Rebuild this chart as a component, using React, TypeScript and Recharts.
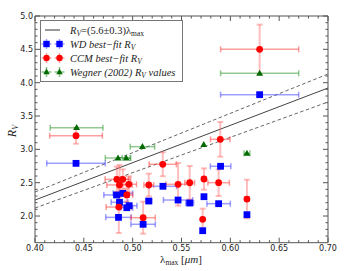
import React from 'react';
import { ScatterChart, Scatter, XAxis, YAxis, ErrorBar, ReferenceLine, ReferenceArea } from 'recharts';

// ---------- data ----------
const xMajorTicks = [0.4, 0.45, 0.5, 0.55, 0.6, 0.65, 0.7];
const xMinorTicks = [0.41, 0.42, 0.43, 0.44, 0.46, 0.47, 0.48, 0.49, 0.51, 0.52, 0.53, 0.54, 0.56, 0.57, 0.58, 0.59, 0.61, 0.62, 0.63, 0.64, 0.66, 0.67, 0.68, 0.69];
const yMajorTicks = [2.0, 2.5, 3.0, 3.5, 4.0, 4.5, 5.0];
const yMinorTicks = [1.7, 1.8, 1.9, 2.1, 2.2, 2.3, 2.4, 2.6, 2.7, 2.8, 2.9, 3.1, 3.2, 3.3, 3.4, 3.6, 3.7, 3.8, 3.9, 4.1, 4.2, 4.3, 4.4, 4.6, 4.7, 4.8, 4.9];

// fit line R_V = (5.6 +/- 0.3) lambda_max, endpoints at x-domain edges
const lineX = [0.4, 0.7];
const fitY = [2.24, 3.92];
const upperY = [2.36, 4.13];
const lowerY = [2.12, 3.71];

// WD best-fit R_V (blue squares)
const wdX = [0.442, 0.4835, 0.49, 0.4865, 0.4964, 0.494, 0.4855, 0.5107, 0.5165, 0.531, 0.5465, 0.5584, 0.573, 0.588, 0.5717, 0.59, 0.617, 0.63];
const wdY = [2.79, 2.316, 2.34, 2.206, 2.155, 2.125, 1.98, 1.876, 2.225, 2.446, 2.24, 2.195, 2.29, 2.185, 1.78, 2.746, 2.02, 3.82];
const wdXErr = [0.03, 0.013, 0.01, 0.0085, 0.008, 0.006, 0.013, 0.0125, 0.003, 0.014, 0.015, 0.004, 0, 0.012, 0, 0.0105, 0.002, 0.04];

// CCM best-fit R_V (red circles)
const ccmX = [0.442, 0.4838, 0.4899, 0.4865, 0.496, 0.494, 0.4858, 0.5107, 0.5165, 0.5308, 0.5465, 0.5584, 0.573, 0.588, 0.5717, 0.5897, 0.617, 0.63];
const ccmY = [3.205, 2.55, 2.55, 2.466, 2.476, 2.316, 2.135, 1.975, 2.466, 2.776, 2.476, 2.5, 2.555, 2.5, 1.95, 3.15, 2.255, 4.5];
const ccmXErr = [0.027, 0.012, 0.008, 0.013, 0.008, 0.006, 0.013, 0.0125, 0.005, 0.014, 0.0125, 0.005, 0.002, 0.011, 0, 0.01, 0.002, 0.04];
const ccmYErr = [0.12, 0.19, 0.15, 0.3, 0.12, 0.1, 0.39, 0.24, 0.17, 0.18, 0.32, 0.25, 0.16, 0.2, 0.16, 0.26, 0.29, 0.37];

// Wegner (2002) R_V values (green triangles)
const wegX = [0.4426, 0.485, 0.4934, 0.51, 0.5728, 0.617, 0.63];
const wegY = [3.325, 2.87, 2.87, 3.04, 3.07, 2.94, 4.14];
const wegXErr = [0.027, 0.013, 0.004, 0.0125, 0, 0.003, 0.04];

const wdData = wdX.map((x, i) => ({ x, y: wdY[i], ex: wdXErr[i] }));
const ccmData = ccmX.map((x, i) => ({ x, y: ccmY[i], ex: ccmXErr[i], ey: ccmYErr[i] }));
const wegData = wegX.map((x, i) => ({ x, y: wegY[i], ex: wegXErr[i] }));

// ---------- layout / style ----------
const W = 354;
const H = 271;
const PL = 35;
const PT = 16;
const PR = 328;
const PB = 242.7;
const AX = '#555';
const TICKFONT = 'DejaVu Sans';
const SERIF = 'Liberation Serif';

const BLUE = '#0000ff';
const RED = '#ff0000';
const GREEN = '#006a00';

const XMajor = (p: any) => (
  <g>
    <line x1={p.x} x2={p.x} y1={PB} y2={PB - 5} stroke={AX} strokeWidth={1} />
    <line x1={p.x} x2={p.x} y1={PT} y2={PT + 5} stroke={AX} strokeWidth={1} />
    <text x={p.x} y={250.6} textAnchor="middle" fontFamily={TICKFONT} fontSize={8} fill="#222">
      {Number(p.payload.value).toFixed(2)}
    </text>
  </g>
);
const XMinor = (p: any) => (
  <g>
    <line x1={p.x} x2={p.x} y1={PB} y2={PB - 2.5} stroke={AX} strokeWidth={1} />
    <line x1={p.x} x2={p.x} y1={PT} y2={PT + 2.5} stroke={AX} strokeWidth={1} />
  </g>
);
const YMajor = (p: any) => (
  <g>
    <line x1={PL} x2={PL + 5} y1={p.y} y2={p.y} stroke={AX} strokeWidth={1} />
    <line x1={PR} x2={PR - 5} y1={p.y} y2={p.y} stroke={AX} strokeWidth={1} />
    <text x={33} y={p.y + 2.9} textAnchor="end" fontFamily={TICKFONT} fontSize={8} fill="#222">
      {Number(p.payload.value).toFixed(1)}
    </text>
  </g>
);
const YMinor = (p: any) => (
  <g>
    <line x1={PL} x2={PL + 2.5} y1={p.y} y2={p.y} stroke={AX} strokeWidth={1} />
    <line x1={PR} x2={PR - 2.5} y1={p.y} y2={p.y} stroke={AX} strokeWidth={1} />
  </g>
);

const Square = (p: any) => <rect x={p.cx - 3.4} y={p.cy - 3.4} width={6.8} height={6.8} fill={BLUE} />;
const Dot = (p: any) => <circle cx={p.cx} cy={p.cy} r={3.4} fill={RED} />;
const Tri = (p: any) => (
  <polygon points={`${p.cx},${p.cy - 3.6} ${p.cx - 3.4},${p.cy + 2.4} ${p.cx + 3.4},${p.cy + 2.4}`} fill={GREEN} />
);

const rows = [30, 44, 58, 72];
const LegendMarkers = ({ y, color, err, shape }: any) => (
  <g>
    {[46.5, 59.5].map((mx) => (
      <g key={mx}>
        <line x1={mx - 5} x2={mx + 5} y1={y} y2={y} stroke={err} strokeWidth={1.5} />
        <line x1={mx} x2={mx} y1={y - 5} y2={y + 5} stroke={err} strokeWidth={1.5} />
        {shape === 's' && <rect x={mx - 3.2} y={y - 3.2} width={6.4} height={6.4} fill={color} />}
        {shape === 'c' && <circle cx={mx} cy={y} r={3.2} fill={color} />}
        {shape === 't' && <polygon points={`${mx},${y - 3.4} ${mx - 3.2},${y + 2.3} ${mx + 3.2},${y + 2.3}`} fill={color} />}
      </g>
    ))}
  </g>
);

const Overlay = () => (
  <svg width={W} height={H} style={{ position: 'absolute', left: 0, top: 0, pointerEvents: 'none' }}>
    {/* axis labels */}
    <text x={181} y={263} textAnchor="middle" fontFamily={SERIF} fontSize={11} fill="#222">
      λ<tspan fontSize={7.5} dy={2}>max</tspan>
      <tspan dy={-2}> [</tspan>
      <tspan fontStyle="italic">μm</tspan>]
    </text>
    <text x={15.5} y={131} transform="rotate(-90 15.5 131)" textAnchor="middle" fontFamily={SERIF} fontSize={12} fontStyle="italic" fill="#222">
      R<tspan fontSize={8} dy={2}>V</tspan>
    </text>
    {/* legend */}
    <rect x={40.5} y={20.5} width={142} height={61} fill="#fff" stroke="#777" strokeWidth={1} />
    <line x1={45} x2={60} y1={rows[0]} y2={rows[0]} stroke="#333" strokeWidth={1} />
    <LegendMarkers y={rows[1]} color={BLUE} err="rgba(80,80,255,0.55)" shape="s" />
    <LegendMarkers y={rows[2]} color={RED} err="rgba(255,80,80,0.55)" shape="c" />
    <LegendMarkers y={rows[3]} color={GREEN} err="rgba(40,150,40,0.55)" shape="t" />
    <g fontFamily={SERIF} fontSize={10.5} fill="#222">
      <text x={70} y={rows[0] + 3.5}>
        <tspan fontStyle="italic">R</tspan>
        <tspan fontStyle="italic" fontSize={7.5} dy={2}>V</tspan>
        <tspan dy={-2}>=(5.6±0.3)λ</tspan>
        <tspan fontSize={7.5} dy={2}>max</tspan>
      </text>
      <text x={70} y={rows[1] + 3.5} fontStyle="italic">
        WD best−fit R<tspan fontSize={7.5} dy={2}>V</tspan>
      </text>
      <text x={70} y={rows[2] + 3.5} fontStyle="italic">
        CCM best−fit R<tspan fontSize={7.5} dy={2}>V</tspan>
      </text>
      <text x={70} y={rows[3] + 3.5} fontStyle="italic">
        Wegner (2002) R<tspan fontSize={7.5} dy={2}>V</tspan>
        <tspan dy={-2}> values</tspan>
      </text>
    </g>
  </svg>
);

export default function App() {
  return (
    <div style={{ position: 'absolute', left: 0, top: 0, width: W, height: H, background: '#fff' }}>
      <ScatterChart width={W} height={H} margin={{ top: 0, right: 0, bottom: 0, left: 0 }}>
        <XAxis
          xAxisId={0}
          orientation="bottom"
          type="number"
          dataKey="x"
          domain={[0.4, 0.7]}
          ticks={xMajorTicks}
          interval={0}
          allowDataOverflow
          height={H - PB}
          axisLine={false}
          tickLine={false}
          tick={XMajor}
        />
        <XAxis
          xAxisId="minor"
          orientation="top"
          type="number"
          dataKey="x"
          domain={[0.4, 0.7]}
          ticks={xMinorTicks}
          interval={0}
          allowDataOverflow
          height={PT}
          axisLine={false}
          tickLine={false}
          tick={XMinor}
        />
        <YAxis
          yAxisId={0}
          orientation="left"
          type="number"
          dataKey="y"
          domain={[1.6, 5.0]}
          ticks={yMajorTicks}
          interval={0}
          allowDataOverflow
          width={PL}
          axisLine={false}
          tickLine={false}
          tick={YMajor}
        />
        <YAxis
          yAxisId="minor"
          orientation="right"
          type="number"
          dataKey="y"
          domain={[1.6, 5.0]}
          ticks={yMinorTicks}
          interval={0}
          allowDataOverflow
          width={W - PR}
          axisLine={false}
          tickLine={false}
          tick={YMinor}
        />
        <ReferenceLine
          segment={[{ x: lineX[0], y: upperY[0] }, { x: lineX[1], y: upperY[1] }]}
          stroke="#666"
          strokeWidth={1}
          strokeDasharray="3.5 2.5"
          ifOverflow="visible"
        />
        <ReferenceLine
          segment={[{ x: lineX[0], y: fitY[0] }, { x: lineX[1], y: fitY[1] }]}
          stroke="#444"
          strokeWidth={1}
          ifOverflow="visible"
        />
        <ReferenceLine
          segment={[{ x: lineX[0], y: lowerY[0] }, { x: lineX[1], y: lowerY[1] }]}
          stroke="#666"
          strokeWidth={1}
          strokeDasharray="3.5 2.5"
          ifOverflow="visible"
        />
        <Scatter data={wdData} shape={Square} isAnimationActive={false}>
          <ErrorBar dataKey="ex" direction="x" width={3} stroke="rgba(60,60,255,0.5)" strokeWidth={1.5} />
        </Scatter>
        <Scatter data={ccmData} shape={Dot} isAnimationActive={false}>
          <ErrorBar dataKey="ex" direction="x" width={3} stroke="rgba(255,60,60,0.5)" strokeWidth={1.5} />
          <ErrorBar dataKey="ey" direction="y" width={3} stroke="rgba(255,90,90,0.4)" strokeWidth={2} />
        </Scatter>
        <Scatter data={wegData} shape={Tri} isAnimationActive={false}>
          <ErrorBar dataKey="ex" direction="x" width={3} stroke="rgba(40,150,40,0.5)" strokeWidth={1.5} />
        </Scatter>
        <ReferenceArea x1={0.4} x2={0.7} y1={1.6} y2={5.0} fill="none" stroke={AX} strokeWidth={1} fillOpacity={0} ifOverflow="visible" />
      </ScatterChart>
      <Overlay />
    </div>
  );
}
